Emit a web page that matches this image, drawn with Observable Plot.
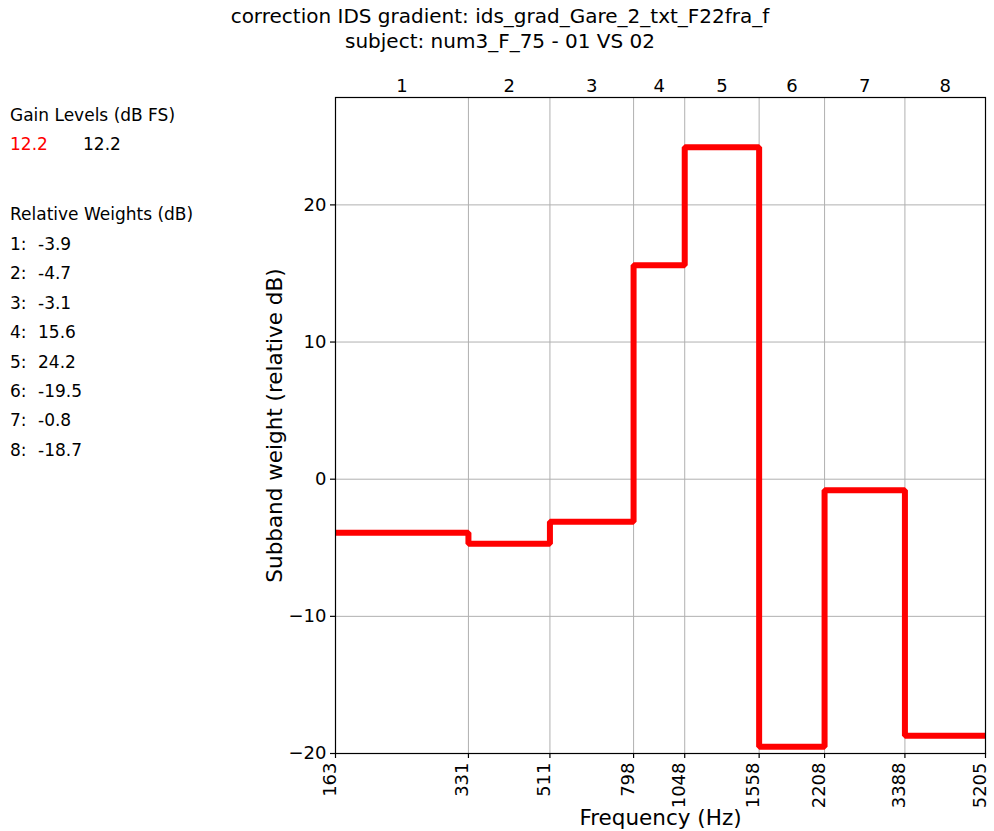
<!DOCTYPE html>
<html><head><meta charset="utf-8">
<script src="https://cdn.jsdelivr.net/npm/d3@7"></script>
<script src="https://cdn.jsdelivr.net/npm/@observablehq/plot@0.6"></script>
<style>
body{margin:0;background:#fff;font-family:"DejaVu Sans",sans-serif;color:#000;}
#wrap{position:relative;width:994px;height:831px;overflow:hidden;}
#wrap svg{position:absolute;left:0;top:0;font-family:"DejaVu Sans",sans-serif;}
.title{position:absolute;left:0;width:1000px;text-align:center;font-size:20px;line-height:25px;white-space:pre;}
.side{position:absolute;left:10px;font-size:17px;line-height:20px;white-space:pre;}
</style></head><body><div id="wrap"></div>
<script>
const titleLines = ["correction IDS gradient: ids_grad_Gare_2_txt_F22fra_f", "subject: num3_F_75 - 01 VS 02"];
const bandEdges = [163, 331, 511, 798, 1048, 1558, 2208, 3388, 5205];
const bandLabels = ["1", "2", "3", "4", "5", "6", "7", "8"];
const weights = [-3.9, -4.7, -3.1, 15.6, 24.2, -19.5, -0.8, -18.7];
const gainLevels = ["12.2", "12.2"];
const gainColors = ["red", "black"];
const yTicks = [-20, -10, 0, 10, 20];
const yDomain = [-20, 27.83];
const xLabel = "Frequency (Hz)";
const yLabel = "Subband weight (relative dB)";

const wrap = document.getElementById("wrap");

const W = 994, H = 831, ML = 335, MR = 9, MT = 97, MB = 78;
const FW = W - ML - MR, FH = H - MT - MB;
const pts = bandEdges.map((e, i) => ({f: e, w: weights[Math.min(i, weights.length - 1)]}));
const centers = bandLabels.map((l, i) => ({f: Math.sqrt(bandEdges[i] * bandEdges[i + 1]), label: l}));
const fmtY = d3.format("d");
const TICKFONT = 18;

const chart = Plot.plot({
  width: W, height: H,
  marginLeft: ML, marginRight: MR, marginTop: MT, marginBottom: MB,
  style: {fontFamily: "DejaVu Sans, sans-serif", background: "white", color: "black"},
  x: {type: "log", domain: [bandEdges[0], bandEdges[bandEdges.length - 1]], axis: null},
  y: {domain: yDomain, axis: null},
  marks: [
    Plot.ruleX(bandEdges.slice(1, -1), {stroke: "#b0b0b0", strokeWidth: 1}),
    Plot.ruleY(yTicks, {stroke: "#b0b0b0", strokeWidth: 1}),
    Plot.line(pts, {x: "f", y: "w", curve: "step-after", stroke: "#ff0000", strokeWidth: 6, strokeLinejoin: "miter", strokeLinecap: "butt"}),
    Plot.frame({stroke: "black", strokeWidth: 1.2}),
    // bottom axis ticks (5px outside the frame)
    Plot.ruleX(bandEdges, {stroke: "black", strokeWidth: 1.2, insetTop: FH, insetBottom: -5}),
    Plot.text(bandEdges, {x: d => d, text: d => String(d), frameAnchor: "bottom", dy: 9, rotate: -90, textAnchor: "end", fontSize: TICKFONT, fill: "black"}),
    // top band labels
    Plot.text(centers, {x: "f", text: "label", frameAnchor: "top", dy: -18, fontSize: TICKFONT, fill: "black"}),
    // left axis ticks
    Plot.ruleY(yTicks, {stroke: "black", strokeWidth: 1.2, insetLeft: -5, insetRight: FW}),
    Plot.text(yTicks, {y: d => d, text: d => fmtY(d), frameAnchor: "left", dx: -9, textAnchor: "end", fontSize: TICKFONT, fill: "black"}),
    Plot.text([xLabel], {frameAnchor: "bottom", dy: 71, fontSize: 21.5, fill: "black"}),
    Plot.text([yLabel], {frameAnchor: "left", dx: -60, rotate: -90, textAnchor: "middle", fontSize: 21.5, fill: "black"})
  ]
});
wrap.appendChild(chart);

titleLines.forEach((t, i) => {
  const d = document.createElement("div");
  d.className = "title";
  d.style.top = (4 + i * 25) + "px";
  d.textContent = t;
  wrap.appendChild(d);
});

function side(text, top, left, color) {
  const d = document.createElement("div");
  d.className = "side";
  d.style.top = top + "px";
  d.style.left = left + "px";
  if (color) d.style.color = color;
  d.textContent = text;
  wrap.appendChild(d);
}
side("Gain Levels (dB FS)", 105, 10);
gainLevels.forEach((g, i) => side(g, 134, 10 + i * 73, gainColors[i]));
side("Relative Weights (dB)", 204, 10);
weights.forEach((w, i) => {
  side((i + 1) + ":", 234 + i * 29.4, 10);
  side(String(w), 234 + i * 29.4, 38);
});
</script></body></html>
